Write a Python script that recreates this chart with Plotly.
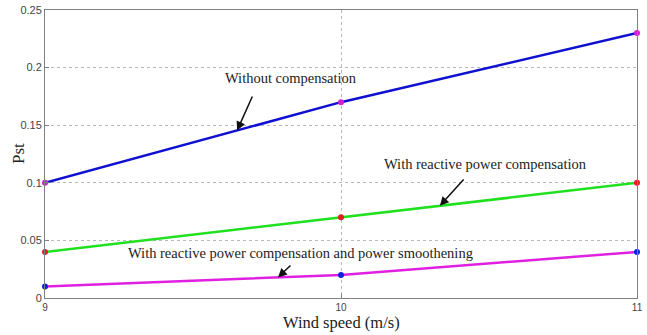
import plotly.graph_objects as go

wind_speed = [9, 10, 11]
pst_without = [0.10, 0.17, 0.23]
pst_reactive = [0.04, 0.07, 0.10]
pst_reactive_smooth = [0.01, 0.02, 0.04]

y_ticks = [0, 0.05, 0.1, 0.15, 0.2, 0.25]
y_tick_text = ["0", "0.05", "0.1", "0.15", "0.2", "0.25"]
x_ticks = [9, 10, 11]

series = [
    (pst_without, "#1010d0", "#d020d0"),
    (pst_reactive, "#20e020", "#e02020"),
    (pst_reactive_smooth, "#e020e0", "#1020e0"),
]

fig = go.Figure()
for values, line_color, marker_color in series:
    fig.add_trace(go.Scatter(
        x=wind_speed, y=values, mode="lines+markers",
        line=dict(color=line_color, width=2.5),
        marker=dict(color=marker_color, size=6),
        showlegend=False,
        cliponaxis=False,
    ))

serif = "Liberation Serif, Times New Roman, serif"
sans = "Liberation Sans, Arial, sans-serif"

# Labels pointing at each curve
notes = [
    ("Without compensation", 9.649, 0.1454, 291, 78, 253, 95),
    ("With reactive power compensation", 10.334, 0.0800, 485, 164, 465, 178),
    ("With reactive power compensation and power smoothening", 9.787, 0.0179, 300, 253, 292, 264),
]
for text, xa, ya, tx, ty, ax_px, ay_px in notes:
    # text label
    fig.add_annotation(
        x=(tx - 45) / 296 + 9, y=(298 - ty) / 1152,
        text=text, showarrow=False,
        font=dict(family=serif, size=14.5, color="#222222"),
    )
    # arrow
    fig.add_annotation(
        x=xa, y=ya, ax=(ax_px - 45) / 296 + 9, ay=(298 - ay_px) / 1152,
        axref="x", ayref="y", text="", showarrow=True,
        arrowhead=2, arrowsize=1.2, arrowwidth=1.5, arrowcolor="#111111",
    )

# Axis titles placed in paper space
fig.add_annotation(
    x=0.5, y=0.0, xref="paper", yref="paper", yshift=-24,
    text="Wind speed (m/s)", showarrow=False, yanchor="middle",
    font=dict(family=serif, size=16.5, color="#222222"),
)
fig.add_annotation(
    x=0, y=0.5, xref="paper", yref="paper", xshift=-27,
    text="Pst", showarrow=False, textangle=-90, xanchor="center",
    font=dict(family=serif, size=17, color="#222222"),
)

fig.update_layout(
    width=647, height=335,
    margin=dict(l=45, r=10, t=10, b=37),
    plot_bgcolor="white", paper_bgcolor="white",
    xaxis=dict(
        range=[9, 11], tickvals=x_ticks, ticktext=[str(v) for v in x_ticks],
        showgrid=True, gridcolor="#b8b8b8", griddash="dot", gridwidth=1,
        showline=True, linecolor="#808080", mirror=True, linewidth=1,
        ticks="inside", ticklen=4, tickcolor="#808080",
        tickfont=dict(family=sans, size=10, color="#444444"),
        zeroline=False, automargin=False,
    ),
    yaxis=dict(
        range=[0, 0.25], tickvals=y_ticks, ticktext=y_tick_text,
        showgrid=True, gridcolor="#b8b8b8", griddash="dot", gridwidth=1,
        showline=True, linecolor="#808080", mirror=True, linewidth=1,
        ticks="inside", ticklen=4, tickcolor="#808080",
        tickfont=dict(family=sans, size=11, color="#444444"),
        zeroline=False, automargin=False,
    ),
)

fig.write_html("out.html")
